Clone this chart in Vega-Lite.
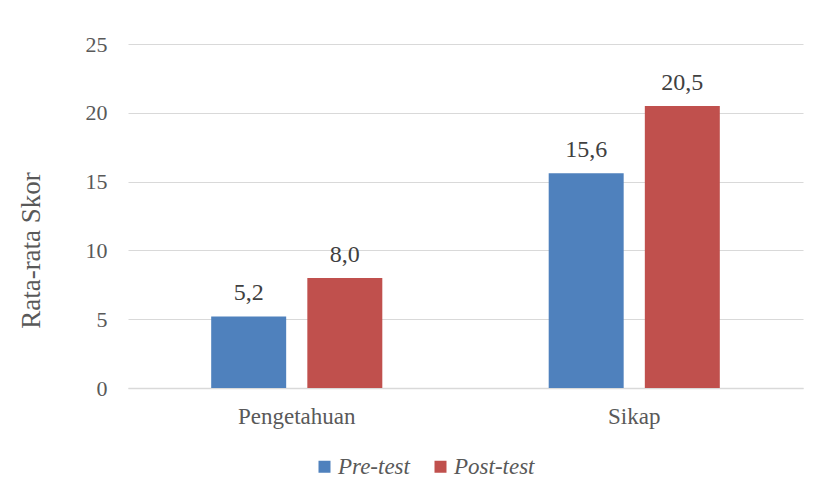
{
  "$schema": "https://vega.github.io/schema/vega-lite/v6.json",
  "width": 675,
  "height": 344,
  "autosize": {"type": "none"},
  "padding": {"left": 128, "top": 44, "right": 15, "bottom": 107},
  "background": "white",
  "config": {
    "font": "Liberation Serif",
    "view": {"stroke": null},
    "locale": {"number": {"decimal": ",", "thousands": ".", "grouping": [3], "currency": ["", ""]}}
  },
  "data": {
    "values": [
      {"kategori": "Pengetahuan", "tes": "Pre-test", "skor": 5.2},
      {"kategori": "Pengetahuan", "tes": "Post-test", "skor": 8.0},
      {"kategori": "Sikap", "tes": "Pre-test", "skor": 15.6},
      {"kategori": "Sikap", "tes": "Post-test", "skor": 20.5}
    ]
  },
  "encoding": {
    "x": {
      "field": "kategori", "type": "nominal", "sort": ["Pengetahuan", "Sikap"],
      "scale": {"paddingInner": 0.493, "paddingOuter": 0.2465},
      "axis": {"title": null, "labelAngle": 0, "labelFontSize": 23, "labelColor": "#595959", "labelPadding": 17, "ticks": false, "domainColor": "#D9D9D9", "domainWidth": 1.5, "labelFont": "Liberation Serif"}
    },
    "xOffset": {"field": "tes", "type": "nominal", "sort": ["Pre-test", "Post-test"], "scale": {"paddingInner": 0.22, "paddingOuter": 0}},
    "y": {
      "field": "skor", "type": "quantitative",
      "scale": {"domain": [0, 25]},
      "axis": {"title": "Rata-rata Skor", "titleFontSize": 27, "titleFontWeight": "normal", "titleColor": "#595959", "titlePadding": 40, "titleY": 206, "titleFont": "Liberation Serif", "values": [0, 5, 10, 15, 20, 25], "labelFontSize": 22, "labelColor": "#595959", "labelPadding": 21, "ticks": false, "domain": false, "gridColor": "#D9D9D9", "gridWidth": 1.2, "labelFont": "Liberation Serif"}
    }
  },
  "layer": [
    {
      "mark": {"type": "bar"},
      "encoding": {
        "color": {
          "field": "tes", "type": "nominal",
          "scale": {"domain": ["Pre-test", "Post-test"], "range": ["#4F81BD", "#C0504D"]},
          "legend": {"title": null, "orient": "none", "legendX": 185, "legendY": 411, "padding": 0, "direction": "horizontal", "symbolType": "square", "symbolSize": 144, "symbolStrokeWidth": 0, "labelFontSize": 23, "labelFontStyle": "italic", "labelColor": "#595959", "labelFont": "Liberation Serif", "columnPadding": 19, "labelOffset": 2}
        }
      }
    },
    {
      "mark": {"type": "text", "baseline": "alphabetic", "dy": -16, "fontSize": 24, "color": "#404040", "font": "Liberation Serif"},
      "encoding": {
        "text": {"field": "skor", "type": "quantitative", "format": ".1f"}
      }
    }
  ]
}
